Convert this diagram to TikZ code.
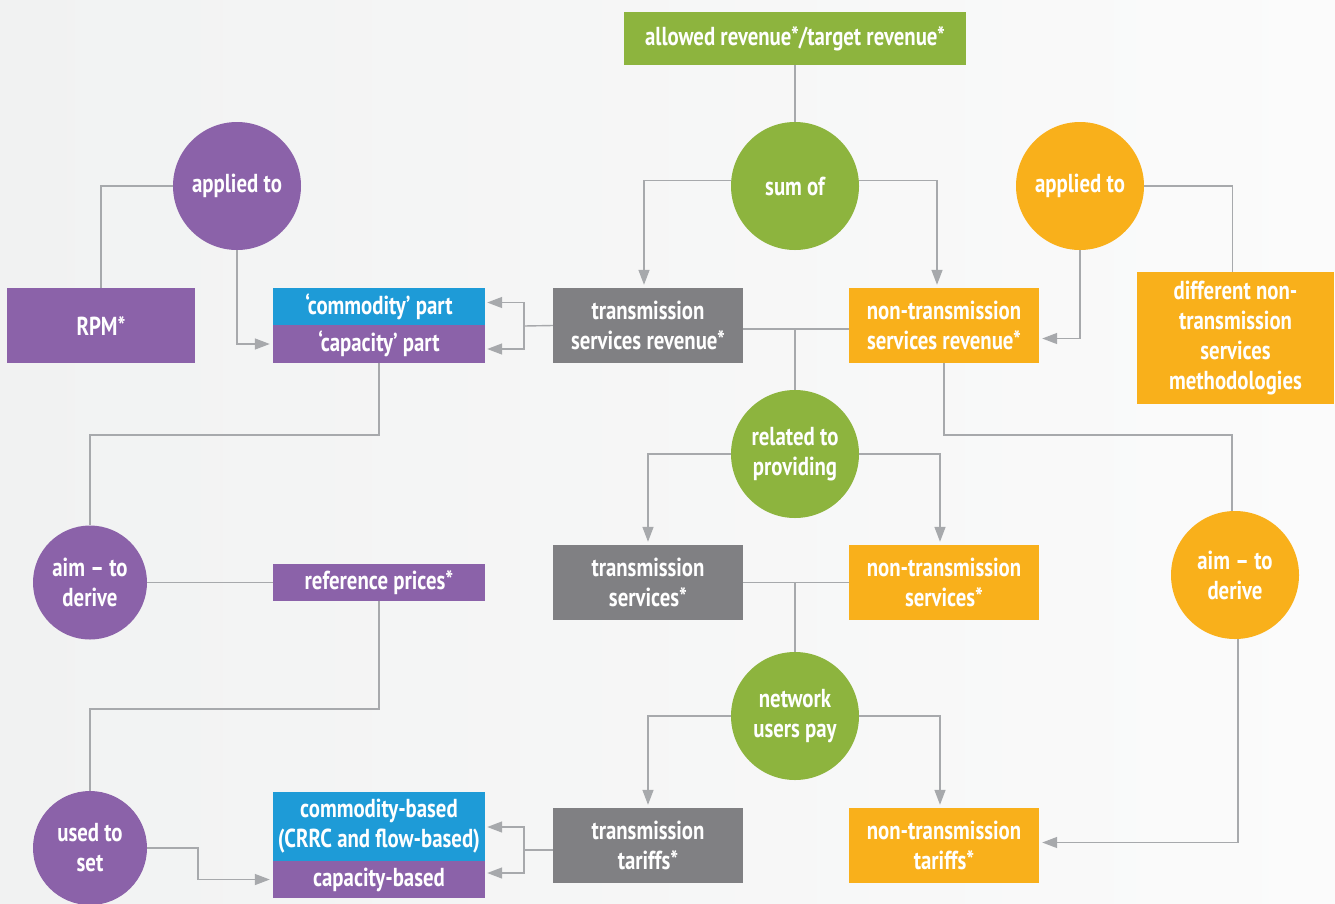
\documentclass[tikz,border=0pt]{standalone}
\usepackage{fontspec}
\setmainfont{PT Sans}[FakeStretch=0.8]
\usetikzlibrary{arrows.meta}
\definecolor{cgreen}{RGB}{141,180,62}
\definecolor{cpurple}{RGB}{139,98,169}
\definecolor{cblue}{RGB}{30,155,215}
\definecolor{cgray}{RGB}{128,128,131}
\definecolor{corange}{RGB}{249,176,27}
\definecolor{cline}{RGB}{167,169,172}
\definecolor{bgl}{RGB}{241,242,242}
\definecolor{bgr}{RGB}{251,251,251}
\begin{document}
\begin{tikzpicture}[x=1pt,y=-1pt,
  txt/.style={text=white, align=center, font=\fontsize{26}{30}\selectfont\bfseries},
  box/.style={txt, rectangle, inner sep=0pt},
  circ/.style={txt, circle, inner sep=0pt, minimum size=128pt},
  smallcirc/.style={txt, circle, inner sep=0pt, minimum size=114pt},
  link/.style={draw=cline, line width=1.4pt},
  arr/.style={link, -{Triangle[length=15pt,width=11pt]}},
]
\shade[left color=bgl, right color=bgr] (0,0) rectangle (1335,903);
\useasboundingbox (0,0) rectangle (1335,903);

% boxes
\node[box, fill=cgreen, minimum width=342pt, minimum height=53pt] (allowed) at (795,38.5) {allowed revenue*/target revenue*};
\node[box, fill=cpurple, minimum width=188pt, minimum height=75pt] (rpm) at (101,325.5) {RPM*};
\node[box, fill=cblue, minimum width=212pt, minimum height=37pt] (comm) at (379,306.5) {‘commodity’ part};
\node[box, fill=cpurple, minimum width=212pt, minimum height=38pt] (cap) at (379,344) {‘capacity’ part};
\node[box, fill=cgray, minimum width=190pt, minimum height=75pt] (tsr) at (648,325.5) {transmission\\services revenue*};
\node[box, fill=corange, minimum width=190pt, minimum height=75pt] (ntsr) at (944,325.5) {non-transmission\\services revenue*};
\node[box, fill=corange, minimum width=197pt, minimum height=132pt] (diff) at (1235.5,338) {different non-\\transmission\\services\\methodologies};
\node[box, fill=cgray, minimum width=190pt, minimum height=75pt] (ts) at (648,582.5) {transmission\\services*};
\node[box, fill=corange, minimum width=190pt, minimum height=75pt] (nts) at (944,582.5) {non-transmission\\services*};
\node[box, fill=cpurple, minimum width=212pt, minimum height=37pt] (ref) at (379,582.5) {reference prices*};
\node[box, fill=cblue, minimum width=212pt, minimum height=69pt] (cb) at (379,826.5) {commodity-based\\(CRRC and flow-based)};
\node[box, fill=cpurple, minimum width=212pt, minimum height=37pt] (capb) at (379,879.5) {capacity-based};
\node[box, fill=cgray, minimum width=190pt, minimum height=75pt] (tt) at (648,845.5) {transmission\\tariffs*};
\node[box, fill=corange, minimum width=190pt, minimum height=75pt] (ntt) at (944,845.5) {non-transmission\\tariffs*};

% circles
\node[circ, fill=cgreen] (sumof) at (795,186) {sum of};
\node[circ, fill=cpurple] (ap1) at (237,186) {applied to};
\node[circ, fill=corange] (ap2) at (1080,186) {applied to};
\node[circ, fill=cgreen] (rel) at (795,454) {related to\\providing};
\node[circ, fill=corange] (aim2) at (1235,575) {aim – to\\derive};
\node[circ, fill=cgreen] (net) at (795,716) {network\\users pay};
\node[smallcirc, fill=cpurple] (aim1) at (90,582.5) {aim – to\\derive};
\node[smallcirc, fill=cpurple] (use) at (90,848) {used to\\set};

% connectors
\draw[link] (allowed.south) -- (sumof.north);
\draw[arr] (sumof.175) -| ([xshift=-4pt,yshift=3pt]tsr.north);
\draw[arr] (sumof.5) -| ([xshift=-7pt,yshift=3pt]ntsr.north);
\coordinate (b1) at (524,326);
\draw[link] (tsr.west) -- (b1);
\draw[arr] (b1) |- ([xshift=2pt,yshift=4pt]comm.east);
\draw[arr] (b1) |- ([xshift=2pt,yshift=-5pt]cap.east);
\draw[link] ([yshift=-3.5pt]tsr.east) -- ([yshift=-3.5pt]ntsr.west);
\draw[link] (rel.north |- 0,329) -- (rel.north);
\draw[link] (ap1.west) -| (rpm.north);
\draw[arr] (ap1.south) |- ([xshift=-3pt]cap.west);
\draw[arr] (ap2.south) |- ([xshift=3pt,yshift=-13pt]ntsr.east);
\draw[link] (ap2.east) -| ([xshift=-3pt]diff.north);
\draw[link] (ntsr.south) |- ([xshift=-3pt]aim2.north |- 0,435) -- ([xshift=-3pt]aim2.north);
\draw[arr] ([xshift=3pt]aim2.south) |- ([xshift=3pt,yshift=3pt]ntt.east);
\draw[arr] (rel.west) -| ([yshift=3pt]ts.north);
\draw[arr] (rel.east) -| ([xshift=-4pt,yshift=3pt]nts.north);
\draw[link] (ts.east) -- (nts.west);
\draw[link] (net.north |- ts.east) -- (net.north);
\draw[arr] (net.west) -| ([yshift=3pt]tt.north);
\draw[arr] (net.east) -| ([xshift=-4pt,yshift=3pt]ntt.north);
\coordinate (b2) at (524,850);
\draw[link] (tt.west |- b2) -- (b2);
\draw[arr] (b2) |- ([xshift=2pt,yshift=-0.5pt]cb.east);
\draw[arr] (b2) |- ([xshift=2pt,yshift=6.5pt]capb.east);
\draw[link] (cap.south) |- (aim1.north |- 0,435) -- (aim1.north);
\draw[link] (aim1.east) -- (ref.west);
\draw[link] (ref.south) |- (use.north |- 0,709) -- (use.north);
\coordinate (k) at (198,848);
\draw[arr] (use.east) -- (k) |- ([xshift=-3pt]capb.west);
\end{tikzpicture}
\end{document}
